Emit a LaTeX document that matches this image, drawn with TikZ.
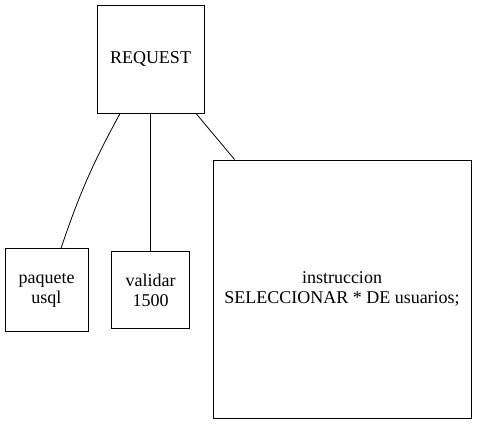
\documentclass[tikz,border=0pt]{standalone}
\usepackage{fontspec}
\setmainfont{Liberation Serif}
\tikzstyle{box}=[draw,rectangle,inner sep=0pt,align=center,font=\rmfamily\fontsize{18}{20}\selectfont]
\tikzstyle{edge}=[draw,line width=0.8pt]

\begin{document}
\begin{tikzpicture}[x=1pt,y=-1pt,line width=0.8pt]
	\useasboundingbox (0,0) rectangle (477,425);
	% First we draw the boxes
	\node[box,minimum width=107pt,minimum height=108pt] (request) at (150.5,59) {REQUEST};
	\node[box,minimum width=83pt,minimum height=83pt] (paquete) at (46.5,290) {paquete\\usql};
	\node[box,minimum width=78pt,minimum height=77pt] (validar) at (150.5,290) {validar\\1500};
	\node[box,minimum width=258pt,minimum height=258pt] (instruccion) at (342,289) {instruccion\\SELECCIONAR * DE usuarios;};

	% Connect the request with its parts
	\path[edge] (request) to[bend right=5] (paquete);
	\foreach \dest in {validar, instruccion}
	\path[edge] (request) -- (\dest);
\end{tikzpicture}
\end{document}
